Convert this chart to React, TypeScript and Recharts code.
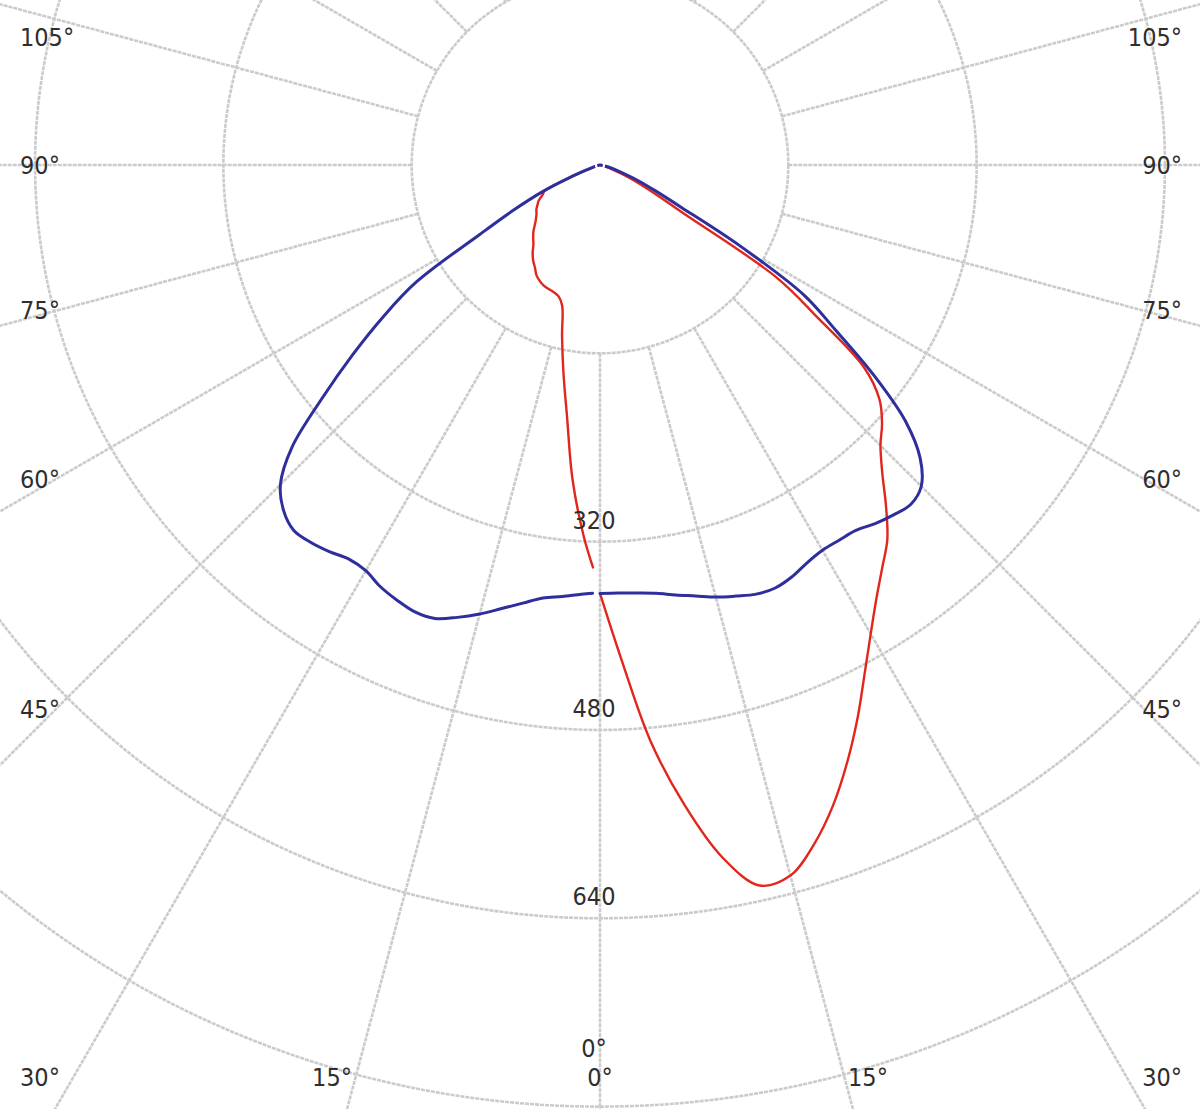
import React from "react";
import { RadarChart, Radar, PolarGrid, PolarAngleAxis, PolarRadiusAxis } from "recharts";

// photometric angle (deg from nadir) of each reading
const GAMMA_RIGHT = [
  0, 2.5, 5, 7.5, 10, 12.5, 15, 17.5, 20, 22.5, 25, 27.5, 30, 32.5, 35, 37.5, 40, 42.5, 45,
  47.5, 50, 52.5, 55, 57.5, 60, 62.5, 65, 67.5, 70, 72.5, 75, 77.5, 80, 82.5, 85, 87.5, 90,
];
const GAMMA_LEFT = [
  1, 2.5, 5, 7.5, 10, 12.5, 15, 17.5, 20, 22.5, 25, 27.5, 30, 32.5, 35, 37.5, 40, 42.5, 45,
  47.5, 50, 52.5, 55, 57.5, 60, 62.5, 65, 67.5, 70, 72.5, 75, 77.5, 80, 82.5, 85, 87.5, 90,
];

// C0 / C180 plane (red)
const C0 = [
  364, 421, 491, 548, 597, 627, 625, 605, 579, 549, 518, 487, 460, 437, 418, 401, 378, 355, 337,
  325, 310, 283, 225, 178, 80, 52, 35, 22, 12, 6, 3, 1, 0, 0, 0, 0, 0,
];
const C180 = [
  342, 316, 268, 215, 179, 149, 124, 117, 115, 114, 113, 111, 108, 103, 99, 94, 88, 84, 80,
  75, 71, 68, 66, 63, 60, 55, 52, 25, 10, 5, 2, 1, 0, 0, 0, 0, 0,
];

// C90 / C270 plane (blue)
const C90 = [
  364, 364, 365, 367, 371, 375, 380, 384, 388, 389, 386, 381, 378, 378, 379, 384, 388, 391, 386,
  369, 339, 293, 244, 205, 137, 78, 52, 36, 23, 15, 9, 5, 3, 1, 0, 0, 0,
];
const C270 = [
  364, 365, 368, 371, 378, 386, 395, 403, 410, 411, 408, 404, 398, 397, 401, 404, 405, 398, 384,
  355, 308, 265, 225, 185, 118, 82, 55, 28, 12, 6, 3, 1, 0, 0, 0, 0, 0,
];

const RINGS = [160, 320, 480, 640, 800, 960];
const RING_LABELS = [320, 480, 640];
const SPOKES = [0, 15, 30, 45, 60, 75, 90, 105, 120, 135, 150, 165, 180, 195, 210, 225, 240, 255, 270, 285, 300, 315, 330, 345];
const ANGLE_LABELS = [0, 15, 30, 45, 60, 75, 90, 105, 255, 270, 285, 300, 315, 330, 345];

const W = 1200;
const H = 1109;
const CX = 600;
const CY = 165;
const PX = 1.177; // px per cd/klm
const FONT = '"DejaVu Sans Condensed", "DejaVu Sans", sans-serif';
const TEXT = "#2e2e2e";
const GRID = "#cbcbcb";

// theta runs counter-clockwise from nadir: right half = C0/C90, left half = C180/C270
const rows = [
  ...GAMMA_RIGHT.map((g, i) => ({ theta: g, red: C0[i], blue: C90[i] })),
  ...GAMMA_LEFT.map((g, i) => ({ theta: 360 - g, red: C180[i], blue: C270[i] })).reverse(),
];

type Pt = { x: number; y: number };

// open centripetal catmull-rom through the radar's own points
function smoothPath(points: Pt[]) {
  const p: Pt[] = [];
  for (const q of points) {
    if (!Number.isFinite(q.x) || !Number.isFinite(q.y)) continue;
    const last = p[p.length - 1];
    if (!last || Math.hypot(q.x - last.x, q.y - last.y) > 0.5) p.push({ x: q.x, y: q.y });
  }
  if (p.length < 2) return "";
  let d = `M${p[0].x},${p[0].y}`;
  for (let i = 0; i < p.length - 1; i++) {
    const p0 = p[i - 1] ?? p[i];
    const p1 = p[i];
    const p2 = p[i + 1];
    const p3 = p[i + 2] ?? p2;
    const l01 = Math.sqrt(Math.hypot(p1.x - p0.x, p1.y - p0.y));
    const l12 = Math.sqrt(Math.hypot(p2.x - p1.x, p2.y - p1.y));
    const l23 = Math.sqrt(Math.hypot(p3.x - p2.x, p3.y - p2.y));
    let c1x = p1.x, c1y = p1.y, c2x = p2.x, c2y = p2.y;
    if (l01 > 1e-6) {
      const a = 2 * l01 * l01 + 3 * l01 * l12 + l12 * l12;
      const n = 3 * l01 * (l01 + l12);
      c1x = (p1.x * a - p0.x * l12 * l12 + p2.x * l01 * l01) / n;
      c1y = (p1.y * a - p0.y * l12 * l12 + p2.y * l01 * l01) / n;
    }
    if (l23 > 1e-6) {
      const b = 2 * l23 * l23 + 3 * l23 * l12 + l12 * l12;
      const m = 3 * l23 * (l23 + l12);
      c2x = (p2.x * b + p1.x * l23 * l23 - p3.x * l12 * l12) / m;
      c2y = (p2.y * b + p1.y * l23 * l23 - p3.y * l12 * l12) / m;
    }
    d += `C${c1x},${c1y},${c2x},${c2y},${p2.x},${p2.y}`;
  }
  return d;
}

function curve(color: string, width: number) {
  return (props: any) => (
    <path
      d={smoothPath(props.points || [])}
      fill="none"
      stroke={color}
      strokeWidth={width}
      strokeLinejoin="round"
      strokeLinecap="round"
    />
  );
}

function AngleTick({ payload }: any) {
  const theta = payload.value as number;
  const style = { fontFamily: FONT, fontSize: 25, fill: TEXT };
  const right = theta < 180;
  const g = right ? theta : 360 - theta;
  const rad = (g * Math.PI) / 180;
  const sx = Math.sin(rad);
  const sy = Math.cos(rad);
  const tSide = sx > 1e-6 ? 558 / sx : Infinity;
  const tBottom = sy > 1e-6 ? 1000 / sy : Infinity;
  if (tSide < tBottom) {
    const y = Math.max(37, Math.min(1077, CY + sy * tSide * 0.975));
    return (
      <text
        x={right ? 1182 : 20}
        y={y}
        textAnchor={right ? "end" : "start"}
        dominantBaseline="central"
        {...style}
      >
        {g}°
      </text>
    );
  }
  const x = CX + (right ? 1 : -1) * sx * tBottom;
  return (
    <g>
      {g === 0 && (
        <text x={x - 6} y={1048} textAnchor="middle" dominantBaseline="central" {...style}>
          0°
        </text>
      )}
      <text x={x} y={1077} textAnchor="middle" dominantBaseline="central" {...style}>
        {g}°
      </text>
    </g>
  );
}

function RadiusTick({ x, y, payload }: any) {
  if (!RING_LABELS.includes(payload.value)) return null;
  return (
    <text x={x - 6} y={y - 13} textAnchor="middle" fontFamily={FONT} fontSize={25} fill={TEXT}>
      {payload.value}
    </text>
  );
}

export default function App() {
  return (
    <div style={{ position: "relative", width: W, height: H, overflow: "hidden", background: "#fff" }}>
      <style>{"html,body{margin:0;padding:0;background:#fff}"}</style>
      <RadarChart
        width={W}
        height={H}
        data={rows}
        cx={CX}
        cy={CY}
        innerRadius={RINGS[0] * PX}
        outerRadius={RINGS[RINGS.length - 1] * PX}
        startAngle={-90}
        endAngle={270}
        margin={{ top: 0, right: 0, bottom: 0, left: 0 }}
      >
        <PolarGrid
          gridType="circle"
          polarAngles={SPOKES.map((t) => t - 90)}
          stroke={GRID}
          strokeWidth={2.6}
          strokeDasharray="4 1"
        />
        <PolarAngleAxis
          dataKey="theta"
          type="number"
          domain={[0, 360]}
          ticks={ANGLE_LABELS as any}
          tick={AngleTick}
          axisLine={false}
          tickLine={false}
        />
        <PolarRadiusAxis
          angle={-90}
          type="number"
          domain={[RINGS[0], RINGS[RINGS.length - 1]]}
          allowDataOverflow
          ticks={RINGS as any}
          tick={RadiusTick}
          axisLine={false}
          tickLine={false}
        />
        <Radar dataKey="red" shape={curve("#e1261c", 2.4)} isAnimationActive={false} />
        <Radar dataKey="blue" shape={curve("#2e2e9c", 3)} isAnimationActive={false} />
      </RadarChart>
    </div>
  );
}
